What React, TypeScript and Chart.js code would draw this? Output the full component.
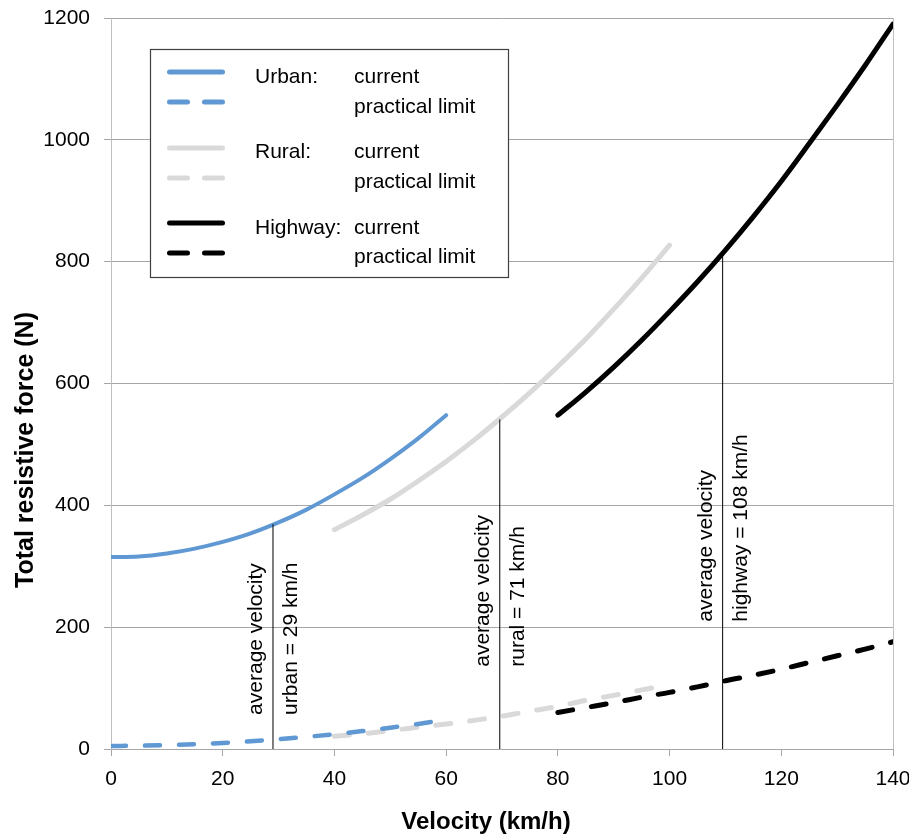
import React, { useEffect, useRef } from 'react';
import { Chart, registerables } from 'chart.js';

Chart.register(...registerables);

const FONT = "'Liberation Sans', Arial, Helvetica, sans-serif";

// ---- data (velocity in km/h, force in N) ----
const urbanVelocity = [0, 5, 10, 15, 20, 25, 30, 35, 40, 45, 50, 55, 60];
const urbanCurrent = [315, 316, 321, 329, 340, 354, 372, 393, 418, 445, 476, 510, 548];
const urbanLimit = [5, 5.4, 6.3, 7.9, 10, 12.7, 16, 19.9, 24.3, 29.4, 35, 41.2, 48];

const ruralVelocity = [40, 45, 50, 55, 60, 65, 70, 75, 80, 85, 90, 95, 100];
const ruralCurrent = [360, 384, 410, 440, 472, 507, 545, 585, 628, 673, 722, 773, 827];
const ruralLimit = [21, 25, 30, 36, 41, 47, 54, 62, 70, 80, 88, 97, 106];

const highwayVelocity = [80, 85, 90, 95, 100, 105, 110, 115, 120, 125, 130, 135, 140];
const highwayCurrent = [548, 586, 627, 671, 718, 767, 819, 874, 932, 994, 1057, 1122, 1190];
const highwayLimit = [60, 68, 76, 85, 93, 102, 112, 121, 131, 142, 153, 164, 176];

const avgVelocity = [29, 69.6, 109.5];
const avgForce = [369, 541, 814];
const avgLabelLeft = ['average velocity', 'average velocity', 'average velocity'];
const avgLabelRight = ['urban = 29 km/h', 'rural = 71 km/h', 'highway = 108 km/h'];
const avgLabelStart = [56, 135, 209];

const legendGroups = ['Urban:', 'Rural:', 'Highway:'];
const legendKinds = ['current', 'practical limit'];

const xTitle = 'Velocity (km/h)';
const yTitle = 'Total resistive force (N)';

const BLUE = '#5f98d2';
const GRAY = '#d9d9d9';
const BLACK = '#000000';
const seriesColors = [BLUE, GRAY, BLACK];

const zip = (xs: number[], ys: number[]) => xs.map((x, i) => ({ x, y: ys[i] }));

const lineDs = (label: string, xs: number[], ys: number[], color: string, width: number, dashed: boolean) => ({
  label,
  data: zip(xs, ys),
  borderColor: color,
  backgroundColor: color,
  borderWidth: width,
  borderDash: dashed ? [15, 19] : [],
  borderCapStyle: 'round',
  borderJoinStyle: 'round',
  pointRadius: 0,
  pointHoverRadius: 0,
  fill: false,
  tension: 0.4,
  cubicInterpolationMode: 'monotone',
});

const zeroPadding = (s: any) => {
  s.paddingLeft = 0;
  s.paddingRight = 0;
  s.paddingTop = 0;
  s.paddingBottom = 0;
};

const overlayPlugin = {
  id: 'overlay',
  afterDatasetsDraw(chart: any) {
    const { ctx, scales, chartArea } = chart;
    const x = scales.x;
    const y = scales.y;
    ctx.save();

    // rotated average velocity labels
    ctx.fillStyle = '#000';
    ctx.font = `21px ${FONT}`;
    ctx.textAlign = 'left';
    ctx.textBaseline = 'alphabetic';
    avgVelocity.forEach((v, i) => {
      const px = x.getPixelForValue(v);
      const py = y.getPixelForValue(avgLabelStart[i]);
      const items: [string, number][] = [[avgLabelLeft[i], -11], [avgLabelRight[i], 24]];
      items.forEach(([t, off]) => {
        ctx.save();
        ctx.translate(px + off, py);
        ctx.rotate(-Math.PI / 2);
        ctx.fillText(t, 0, 0);
        ctx.restore();
      });
    });

    // legend box
    const bx = 150, by = 49, bw = 358, bh = 228;
    ctx.fillStyle = '#fff';
    ctx.fillRect(bx, by, bw, bh);
    ctx.strokeStyle = '#404040';
    ctx.lineWidth = 1.2;
    ctx.strokeRect(bx + 0.5, by + 0.5, bw, bh);

    const lineY = [72, 102, 148, 178, 223, 253];
    const textY = [83, 113, 158, 188, 234, 263];
    ctx.lineCap = 'round';
    ctx.lineWidth = 5;
    legendGroups.forEach((g, gi) => {
      legendKinds.forEach((k, ki) => {
        const row = gi * 2 + ki;
        ctx.strokeStyle = seriesColors[gi];
        ctx.setLineDash(ki === 1 ? [18, 17] : []);
        ctx.beginPath();
        ctx.moveTo(169.5, lineY[row]);
        ctx.lineTo(222.5, lineY[row]);
        ctx.stroke();
        ctx.setLineDash([]);
        ctx.fillStyle = '#000';
        ctx.font = `21px ${FONT}`;
        if (ki === 0) ctx.fillText(g, 255, textY[row]);
        ctx.fillText(k, 354, textY[row]);
      });
    });

    // axis titles
    ctx.fillStyle = '#000';
    ctx.textAlign = 'center';
    ctx.textBaseline = 'middle';
    ctx.font = `bold 24px ${FONT}`;
    ctx.fillText(xTitle, (chartArea.left + chartArea.right) / 2 - 16, 822);
    ctx.save();
    ctx.translate(26, 450);
    ctx.rotate(-Math.PI / 2);
    ctx.font = `bold 25px ${FONT}`;
    ctx.fillText(yTitle, 0, 0);
    ctx.restore();

    ctx.restore();
  },
};

export default function App() {
  const ref = useRef<HTMLCanvasElement | null>(null);

  useEffect(() => {
    if (!ref.current) return;
    const avgDatasets = avgVelocity.map((v, i) => ({
      label: 'avg' + i,
      data: [{ x: v, y: 0 }, { x: v, y: avgForce[i] }],
      borderColor: '#000',
      borderWidth: 1,
      pointRadius: 0,
      pointHoverRadius: 0,
      fill: false,
      tension: 0,
    }));
    const chart = new Chart(ref.current, {
      type: 'line',
      data: {
        datasets: [
          ...avgDatasets,
          lineDs('Urban current', urbanVelocity, urbanCurrent, BLUE, 4, false),
          lineDs('Urban practical limit', urbanVelocity, urbanLimit, BLUE, 4.5, true),
          lineDs('Rural current', ruralVelocity, ruralCurrent, GRAY, 5, false),
          lineDs('Rural practical limit', ruralVelocity, ruralLimit, GRAY, 5, true),
          lineDs('Highway current', highwayVelocity, highwayCurrent, BLACK, 5, false),
          lineDs('Highway practical limit', highwayVelocity, highwayLimit, BLACK, 5, true),
        ] as any,
      },
      options: {
        animation: false,
        responsive: false,
        devicePixelRatio: 1,
        layout: { padding: { top: 18, right: 16, bottom: 0, left: 0 }, autoPadding: false } as any,
        plugins: {
          legend: { display: false },
          tooltip: { enabled: false },
        },
        scales: {
          x: {
            type: 'linear',
            min: 0,
            max: 140,
            ticks: {
              stepSize: 20,
              color: '#000',
              padding: 11,
              maxRotation: 0,
              font: { family: FONT, size: 21 },
              callback: (v: any) => String(v),
            },
            grid: {
              color: (c: any) => (c.tick && c.tick.value === 140 ? '#bfbfbf' : 'rgba(0,0,0,0)'),
              tickColor: '#a6a6a6',
              tickLength: 7,
              drawOnChartArea: true,
            },
            border: { color: '#a6a6a6', width: 1 },
            afterFit: (s: any) => {
              s.height = 86;
              zeroPadding(s);
            },
          },
          y: {
            type: 'linear',
            min: 0,
            max: 1200,
            ticks: {
              stepSize: 200,
              color: '#000',
              padding: 14,
              font: { family: FONT, size: 21 },
              callback: (v: any) => String(v),
            },
            grid: {
              color: '#a6a6a6',
              tickColor: '#a6a6a6',
              tickLength: 7,
            },
            border: { color: '#bfbfbf', width: 1 },
            afterFit: (s: any) => {
              s.width = 111;
              zeroPadding(s);
            },
          },
        } as any,
      },
      plugins: [overlayPlugin],
    });
    return () => chart.destroy();
  }, []);

  return (
    <div style={{ position: 'absolute', left: 0, top: 0, width: 909, height: 835, background: '#fff' }}>
      <canvas ref={ref} width={909} height={835} style={{ display: 'block', width: 909, height: 835 }} />
    </div>
  );
}
